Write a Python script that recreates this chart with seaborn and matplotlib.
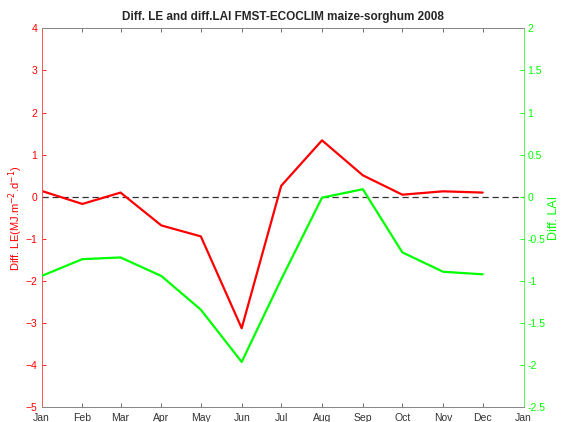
import numpy as np
import pandas as pd
import matplotlib
matplotlib.use("Agg")
import matplotlib.pyplot as plt
import matplotlib.dates as mdates
import seaborn as sns

# Monthly differences FMST - ECOCLIM, maize-sorghum, 2008
months = ["Jan", "Feb", "Mar", "Apr", "May", "Jun",
          "Jul", "Aug", "Sep", "Oct", "Nov", "Dec"]
diff_le = [0.14, -0.17, 0.10, -0.68, -0.94, -3.12,
           0.26, 1.34, 0.51, 0.05, 0.13, 0.10]
diff_lai = [-0.94, -0.74, -0.72, -0.94, -1.34, -1.96,
            -0.98, -0.01, 0.09, -0.66, -0.89, -0.92]
year = 2008

dates = pd.date_range(f"{year}-01-01", periods=len(months), freq="MS")
df = pd.DataFrame({"date": dates, "le": diff_le, "lai": diff_lai})

sns.set_style("white")
plt.rcParams["font.family"] = ["Liberation Sans", "DejaVu Sans"]

fig = plt.figure(figsize=(5.64, 4.22), dpi=100)
ax = fig.add_axes([0.0736, 0.0345, 0.8546, 0.8985])
ax2 = ax.twinx()

red = "#ff0000"
green = "#00ff00"
grey = "#555555"

ax.axhline(0, color="#333333", lw=0.9, ls=(0, (5, 3)), zorder=1)
sns.lineplot(data=df, x="date", y="le", ax=ax, color=red, lw=1.6)
sns.lineplot(data=df, x="date", y="lai", ax=ax2, color=green, lw=1.6)

ax.set_xlim(pd.Timestamp(f"{year}-01-01"), pd.Timestamp(f"{year + 1}-01-01"))
ax.xaxis.set_major_locator(mdates.MonthLocator())
ax.xaxis.set_major_formatter(mdates.DateFormatter("%b"))
ax.set_ylim(-5, 4)
ax2.set_ylim(-2.5, 2)
ax.set_yticks(np.arange(-5, 5, 1))
lai_ticks = np.arange(-2.5, 2.01, 0.5)
ax2.set_yticks(lai_ticks)
ax2.set_yticklabels([f"{v:g}" for v in lai_ticks])

ax.set_xlabel("")
ax2.set_xlabel("")
ax.set_ylabel(r"Diff. LE(MJ.m$^{-2}$.d$^{-1}$)", color=red, fontsize=8, labelpad=0)
ax2.set_ylabel("Diff. LAI", color=green, fontsize=9, labelpad=2)

ax.tick_params(axis="x", direction="in", length=3, width=0.6, color=grey,
               labelcolor="#333333", labelsize=7.5, pad=4, top=True, bottom=True)
ax.tick_params(axis="y", direction="in", length=3, width=0.6, color=red,
               labelcolor=red, labelsize=7.5, pad=3)
ax2.tick_params(axis="y", direction="in", length=3, width=0.6, color=green,
                labelcolor=green, labelsize=7.5, pad=3)

for a in (ax, ax2):
    for s in a.spines.values():
        s.set_visible(True)
        s.set_linewidth(0.7)
        s.set_color("#888888")
ax2.spines["left"].set_visible(False)
ax2.spines["right"].set_visible(False)
ax.spines["left"].set_color("#ff5555")
ax.spines["right"].set_color("#55ff55")
ax.spines["right"].set_zorder(5)

ax.set_title("Diff. LE and diff.LAI FMST-ECOCLIM maize-sorghum 2008",
             fontsize=8.5, fontweight="bold", pad=6)

fig.savefig("out.png", dpi=100)
